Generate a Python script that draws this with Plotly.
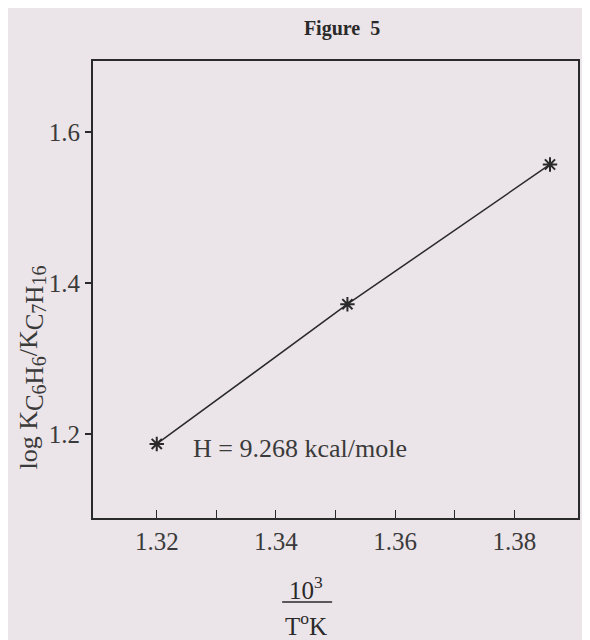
import plotly.graph_objects as go

# Data
x_vals = [1.320, 1.352, 1.386]
y_vals = [1.187, 1.372, 1.557]
x_ticks = [1.32, 1.34, 1.36, 1.38]
x_minor_ticks = [1.33, 1.35, 1.37]
x_tick_labels = ["1.32", "1.34", "1.36", "1.38"]
y_ticks = [1.2, 1.4, 1.6]
y_tick_labels = ["1.2", "1.4", "1.6"]
title_text = "Figure  5"
note_text = "H = 9.268 kcal/mole"

S1 = "<span style='font-size:25px'>"
S2 = "<span style='font-size:20px'>"
E = "</span>"
y_title = ("log K<sub>" + S1 + "C" + E + "<sub>" + S2 + "6" + E + "</sub>" + S1 + "H" + E +
           "<sub>" + S2 + "6" + E + "</sub></sub>/K<sub>" + S1 + "C" + E + "<sub>" + S2 + "7" + E +
           "</sub>" + S1 + "H" + E + "<sub>" + S2 + "16" + E + "</sub></sub>")

bg = "#ebe4e8"
ink = "#2a2a2a"
txt = "#3a3a3a"
font_family = "Liberation Serif, Times New Roman, serif"

fig = go.Figure()
fig.add_trace(go.Scatter(
    x=x_vals, y=y_vals, mode="lines+markers",
    line=dict(color=ink, width=1.5),
    marker=dict(symbol="asterisk-open", size=12, color=ink, line=dict(color=ink, width=2)),
    showlegend=False, hoverinfo="x+y",
))

fig.update_layout(
    width=574, height=632,
    margin=dict(l=85, r=2, t=53, b=122),
    paper_bgcolor=bg, plot_bgcolor=bg,
    font=dict(family=font_family, size=24, color=txt),
    title=dict(text="<b>" + title_text + "</b>", x=0.582, xanchor="center", y=0.968, yanchor="middle",
               font=dict(size=20, family=font_family, color=ink)),
    xaxis=dict(range=[1.3093, 1.3907], tickvals=x_ticks, ticktext=x_tick_labels,
               ticks="inside", ticklen=8, tickwidth=1.3, tickcolor=ink,
               minor=dict(tickvals=x_minor_ticks, ticks="inside", ticklen=8, tickwidth=1.3, tickcolor=ink),
               showline=True, linecolor=ink, linewidth=2, mirror=True,
               showgrid=False, zeroline=False, tickfont=dict(size=25, color=txt)),
    yaxis=dict(range=[1.089, 1.694], tickvals=y_ticks, ticktext=y_tick_labels,
               ticks="outside", ticklen=6, tickwidth=1.5, tickcolor=ink,
               showline=True, linecolor=ink, linewidth=2, mirror=True,
               showgrid=False, zeroline=False, tickfont=dict(size=25, color=txt)),
)

# y-axis title as rotated annotation
fig.add_annotation(x=-0.125, y=0.33, xref="paper", yref="paper", text=y_title, showarrow=False,
                   textangle=-90, xanchor="center", yanchor="middle",
                   font=dict(size=26, family=font_family, color=txt))

fig.add_annotation(x=x_vals[0], y=y_vals[0], xref="x", yref="y", text=note_text, showarrow=False,
                   xanchor="left", yanchor="middle", xshift=34, yshift=-5,
                   font=dict(size=26, family=font_family, color=txt))

# fraction axis title
fig.add_annotation(x=0.44, y=-0.153, xref="paper", yref="paper", text="10<sup>3</sup>", showarrow=False,
                   xanchor="center", yanchor="middle", font=dict(size=25, family=font_family, color=ink))
fig.add_shape(type="line", xref="paper", yref="paper", x0=0.39, x1=0.493, y0=-0.184, y1=-0.184,
              line=dict(color=ink, width=1.5))
fig.add_annotation(x=0.44, y=-0.232, xref="paper", yref="paper", text="T<sup>o</sup>K", showarrow=False,
                   xanchor="center", yanchor="middle", font=dict(size=25, family=font_family, color=ink))

fig.write_html("out.html")
